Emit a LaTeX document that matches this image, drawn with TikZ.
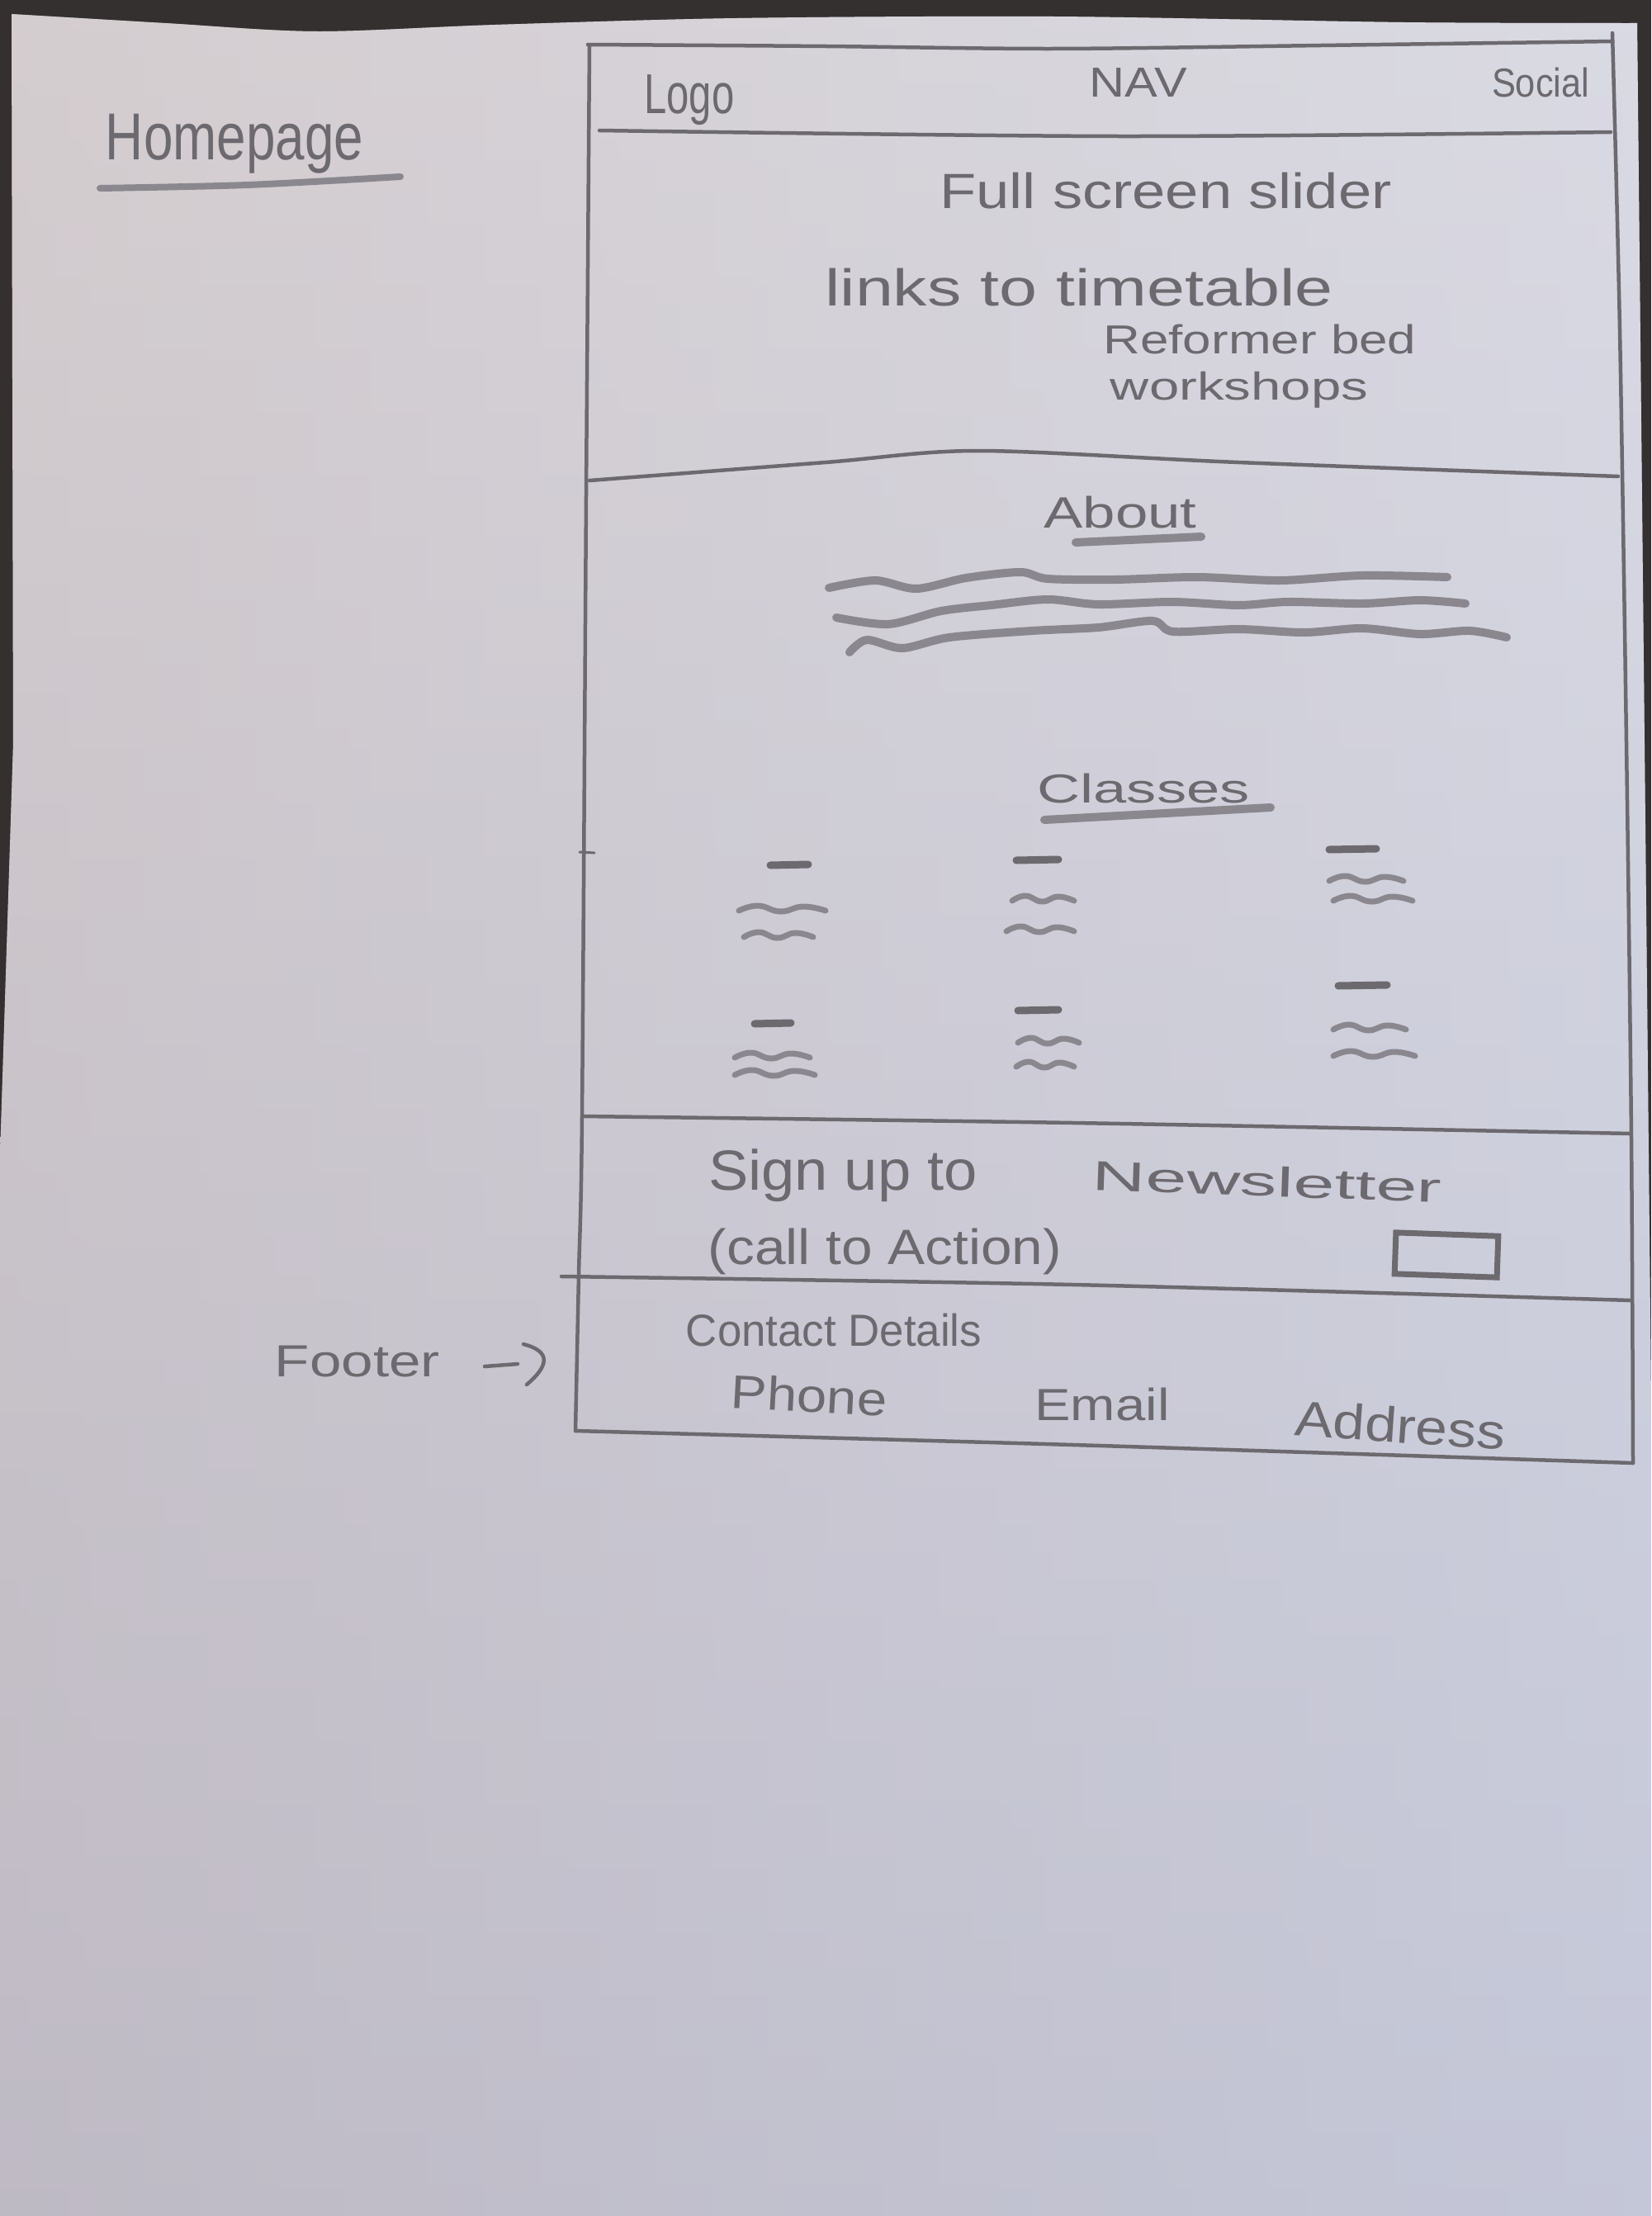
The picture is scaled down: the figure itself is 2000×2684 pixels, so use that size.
\documentclass[tikz,border=0pt]{standalone}
\usepackage{fontspec}
\setmainfont{Liberation Sans}
\usepackage{graphicx}

\definecolor{bgdark}{RGB}{52,48,48}
\definecolor{paperTop}{RGB}{220,214,216}
\definecolor{paperMid}{RGB}{206,201,206}
\definecolor{paperBot}{RGB}{180,179,196}
\definecolor{paperWarm}{RGB}{204,195,197}
\definecolor{paperCool}{RGB}{216,224,242}
\definecolor{pencil}{RGB}{108,105,111}
\definecolor{pencilLight}{RGB}{138,136,142}

\tikzset{
  rule/.style={draw=pencil, line width=4.5pt, line cap=round, line join=round},
  scribble/.style={draw=pencilLight, line width=8pt, line cap=round, line join=round},
  dashmark/.style={draw=pencil, line width=9pt, line cap=round},
  hand/.style={inner sep=0pt, outer sep=0pt, text=pencil},
}
% hand lettering: a text squeezed into a given width and total height
\newcommand\hw[3]{\resizebox*{#1pt}{#2pt}{#3}}
% a short wavy pencil stroke from x=#1 to x=#2 at height #3
\newcommand\squig[3]{\draw[scribble, line width=7pt] plot[smooth, tension=0.8] coordinates
  {(#1,#3+2) ({#1+0.22*(#2-#1)},#3-4) ({#1+0.48*(#2-#1)},#3+3) ({#1+0.74*(#2-#1)},#3-3) (#2,#3+2)};}
% a short straight pencil dash from x=#1 to x=#2 at height #3
\newcommand\classbar[3]{\draw[dashmark] (#1,#3) -- (#2,#3-1);}

\begin{document}
\begin{tikzpicture}[x=1pt, y=-1pt]
\useasboundingbox (0,0) rectangle (2000,2684);

% table behind the sheet
\fill[bgdark] (0,0) rectangle (2000,2684);

% the sheet of paper
\begin{scope}
  \clip plot[smooth] coordinates {(14,17) (200,28) (383,38) (600,30) (893,22) (1276,20) (1700,27) (1983,28)}
        -- (1993,1000) -- (2000,1700) -- (2000,2684) -- (0,2684) -- (0,1400) -- (8,1150) -- (16,900) -- cycle;
  \shade[top color=paperTop, middle color=paperMid, bottom color=paperBot] (0,0) rectangle (2000,2684);
  \shade[left color=paperWarm, right color=paperCool, opacity=0.45] (0,0) rectangle (2000,2684);
\end{scope}

% page title
\node[hand] (title) at (284,174) {\hw{312}{72}{Homepage}};
\draw[rule, draw=pencilLight, line width=8pt] plot[smooth] coordinates {(121,228) (300,224) (485,214)};

% outer frame of the page
\draw[rule] plot[smooth] coordinates {(712,54) (1000,56) (1276,59) (1600,55) (1953,50)};
\draw[rule] plot[smooth] coordinates {(714,55) (710,600) (705,1352) (701,1544) (697,1733)};
\draw[rule] plot[smooth] coordinates {(1953,40) (1962,400) (1970,900) (1976,1380) (1978,1772)};

% section dividers
\draw[rule] plot[smooth] coordinates {(726,158) (1354,165) (1951,160)};
\draw[rule] plot[smooth] coordinates {(714,582) (1000,560) (1185,546) (1500,560) (1960,577)};
\draw[rule] plot[smooth] coordinates {(705,1352) (1300,1360) (1976,1373)};
\draw[rule] plot[smooth] coordinates {(680,1546) (1300,1556) (1976,1575)};
\draw[rule] plot[smooth] coordinates {(697,1733) (1300,1750) (1978,1772)};
\draw[rule, line width=3pt] (702,1032) -- (720,1033);

% header
\node[hand] (logo) at (835,121) {\hw{109}{61}{Logo}};
\node[hand] (nav) at (1379,100) {\hw{118}{35}{NAV}};
\node[hand] (social) at (1866,100) {\hw{118}{36}{Social}};

% slider
\node[hand] (slider) at (1412,231) {\hw{547}{44}{Full screen slider}};
\node[hand] (links) at (1307,348) {\hw{615}{46}{links to timetable}};
\node[hand] (reformer) at (1526,411) {\hw{379}{36}{Reformer bed}};
\node[hand] (workshops) at (1501,472) {\hw{312}{44}{workshops}};

% about
\node[hand] (about) at (1357,621) {\hw{185}{39}{About}};
\draw[rule, draw=pencilLight, line width=10pt] (1303,657) -- (1455,650);
\draw[scribble, line width=10pt] plot[smooth] coordinates {(1004,712) (1060,703) (1110,713) (1170,700) (1236,693) (1269,701) (1350,702) (1450,699) (1550,703) (1650,697) (1753,699)};
\draw[scribble, line width=10pt] plot[smooth] coordinates {(1013,748) (1076,756) (1140,740) (1200,733) (1269,726) (1330,732) (1420,729) (1500,733) (1560,729) (1650,731) (1720,727) (1775,731)};
\draw[scribble, line width=10pt] plot[smooth] coordinates {(1029,790) (1050,775) (1093,785) (1150,772) (1250,764) (1330,760) (1396,752) (1421,765) (1500,762) (1580,766) (1650,761) (1720,768) (1780,764) (1825,772)};

% classes
\node[hand] (classes) at (1385,955) {\hw{257}{36}{Classes}};
\draw[rule, draw=pencilLight, line width=10pt] (1265,993) -- (1539,978);
\classbar{933}{979}{1048} \squig{895}{1000}{1101} \squig{901}{985}{1133}
\classbar{1231}{1282}{1042} \squig{1226}{1301}{1089} \squig{1219}{1301}{1126}
\classbar{1610}{1667}{1029} \squig{1610}{1700}{1065} \squig{1615}{1711}{1089}
\classbar{914}{958}{1240} \squig{890}{981}{1279} \squig{890}{987}{1300}
\classbar{1233}{1282}{1224} \squig{1233}{1307}{1261} \squig{1231}{1301}{1290}
\classbar{1621}{1680}{1194} \squig{1615}{1703}{1245} \squig{1615}{1714}{1277}

% newsletter
\node[hand] (signup) at (1021,1424) {\hw{326}{64}{Sign up to}};
\node[hand, rotate=-2] (newsletter) at (1535,1431) {\hw{423}{37}{Newsletter}};
\node[hand] (cta) at (1072,1516) {\hw{428}{56}{(call to Action)}};
\node[draw=pencil, line width=7pt, minimum width=124pt, minimum height=50pt, rotate=-2] (button) at (1752,1520) {};

% footer
\node[hand] (contact) at (1010,1611) {\hw{358}{40}{Contact Details}};
\node[hand, rotate=-3] (phone) at (980,1690) {\hw{189}{42}{Phone}};
\node[hand] (email) at (1335,1701) {\hw{163}{40}{Email}};
\node[hand, rotate=-4] (address) at (1696,1726) {\hw{255}{44}{Address}};

% side note pointing at the footer
\node[hand] (footer) at (433,1649) {\hw{200}{38}{Footer}};
\coordinate (arrowtip) at (669,1649);
\draw[rule] ([xshift=54pt, yshift=-6pt]footer.east) -- ++(40,-3);
\draw[rule] ([shift={(-35,-21)}]arrowtip) .. controls ([shift={(-8,-14)}]arrowtip) and ([shift={(2,0)}]arrowtip) .. ([shift={(-31,28)}]arrowtip);
\end{tikzpicture}
\end{document}
